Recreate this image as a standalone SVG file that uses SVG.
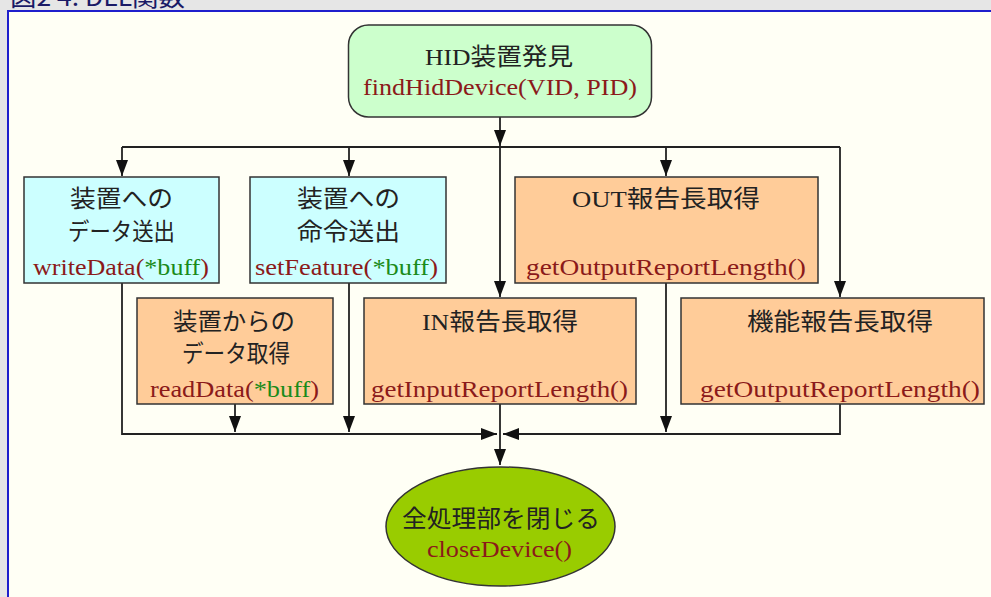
<svg xmlns="http://www.w3.org/2000/svg" width="991" height="597" viewBox="0 0 991 597">
<defs>
<style>
.t{font-family:"Liberation Serif","Noto Sans CJK JP",serif;font-size:24px;fill:#222;text-anchor:middle}
.c{font-family:"Liberation Serif","Noto Sans CJK JP",serif;font-size:24px;fill:#8b1a1a;text-anchor:middle}
.g{fill:#1a8b1a}
.box{stroke:#333;stroke-width:1.5}
.cy{fill:#ccffff}
.or{fill:#ffcc99}
.ln{fill:none;stroke:#222;stroke-width:1.8}
</style>
<marker id="ah" viewBox="0 0 16 12" refX="16" refY="6" markerWidth="16" markerHeight="12" markerUnits="userSpaceOnUse" orient="auto">
<path d="M0,0 L16,6 L0,12 z" fill="#111"/>
</marker>
</defs>
<rect x="0" y="0" width="991" height="597" fill="#e6e6e6"/>
<text x="10" y="6" textLength="175" lengthAdjust="spacingAndGlyphs" style="font-family:'Noto Sans CJK JP',sans-serif;font-size:24px;fill:#1a1a66">図2 4. DLL関数</text>
<rect x="8" y="11" width="990" height="600" fill="#fffff5" stroke="#1f1fcc" stroke-width="2"/>

<g id="connectors">
<path class="ln" d="M500,117 V146" marker-end="url(#ah)"/>
<path class="ln" d="M122,147 H840"/>
<path class="ln" d="M122,147 V176" marker-end="url(#ah)"/>
<path class="ln" d="M349,147 V176" marker-end="url(#ah)"/>
<path class="ln" d="M500,147 V297" marker-end="url(#ah)"/>
<path class="ln" d="M666,147 V176" marker-end="url(#ah)"/>
<path class="ln" d="M840,147 V297" marker-end="url(#ah)"/>
<path class="ln" d="M122,283 V434 H497" marker-end="url(#ah)"/>
<path class="ln" d="M235,404 V432" marker-end="url(#ah)"/>
<path class="ln" d="M349,283 V432" marker-end="url(#ah)"/>
<path class="ln" d="M666,283 V432" marker-end="url(#ah)"/>
<path class="ln" d="M840,404 V434 H503" marker-end="url(#ah)"/>
<path class="ln" d="M500,404 V465" marker-end="url(#ah)"/>
</g>

<g id="n-find">
<rect class="box" x="348.5" y="25" width="303" height="92" rx="20" fill="#ccffcc"/>
<text class="t" x="499" y="65" textLength="148" lengthAdjust="spacingAndGlyphs">HID装置発見</text>
<text class="c" x="500" y="95" textLength="274" lengthAdjust="spacingAndGlyphs">findHidDevice(VID, PID)</text>
</g>

<g id="n-write">
<rect class="box cy" x="24" y="177" width="195" height="106"/>
<text class="t" x="121.5" y="207" textLength="103" lengthAdjust="spacingAndGlyphs">装置への</text>
<text class="t" x="121.5" y="240" textLength="107" lengthAdjust="spacingAndGlyphs">データ送出</text>
<text class="c" x="121" y="275" textLength="176" lengthAdjust="spacingAndGlyphs">writeData(<tspan class="g">*buff</tspan>)</text>
</g>

<g id="n-feature">
<rect class="box cy" x="250" y="177" width="196" height="106"/>
<text class="t" x="348.5" y="207" textLength="103" lengthAdjust="spacingAndGlyphs">装置への</text>
<text class="t" x="348.5" y="240" textLength="103" lengthAdjust="spacingAndGlyphs">命令送出</text>
<text class="c" x="346.5" y="275" textLength="183" lengthAdjust="spacingAndGlyphs">setFeature(<tspan class="g">*buff</tspan>)</text>
</g>

<g id="n-out">
<rect class="box or" x="515" y="177" width="303" height="106"/>
<text class="t" x="666" y="207" textLength="188" lengthAdjust="spacingAndGlyphs">OUT報告長取得</text>
<text class="c" x="666" y="275" textLength="280" lengthAdjust="spacingAndGlyphs">getOutputReportLength()</text>
</g>

<g id="n-read">
<rect class="box or" x="137" y="298" width="196" height="106"/>
<text class="t" x="234" y="330" textLength="122" lengthAdjust="spacingAndGlyphs">装置からの</text>
<text class="t" x="236" y="362" textLength="108" lengthAdjust="spacingAndGlyphs">データ取得</text>
<text class="c" x="234.5" y="397" textLength="169" lengthAdjust="spacingAndGlyphs">readData(<tspan class="g">*buff</tspan>)</text>
</g>

<g id="n-in">
<rect class="box or" x="364" y="298" width="272" height="106"/>
<text class="t" x="500" y="330" textLength="156" lengthAdjust="spacingAndGlyphs">IN報告長取得</text>
<text class="c" x="499.5" y="397" textLength="257" lengthAdjust="spacingAndGlyphs">getInputReportLength()</text>
</g>

<g id="n-feat-len">
<rect class="box or" x="681" y="298" width="303" height="106"/>
<text class="t" x="840" y="330" textLength="186" lengthAdjust="spacingAndGlyphs">機能報告長取得</text>
<text class="c" x="840" y="397" textLength="280" lengthAdjust="spacingAndGlyphs">getOutputReportLength()</text>
</g>

<g id="n-close">
<ellipse class="box" cx="500.5" cy="526.5" rx="114.5" ry="59.5" fill="#99cc00"/>
<text class="t" x="501" y="527" textLength="198" lengthAdjust="spacingAndGlyphs">全処理部を閉じる</text>
<text class="c" x="499.5" y="557" textLength="145" lengthAdjust="spacingAndGlyphs">closeDevice()</text>
</g>
</svg>
